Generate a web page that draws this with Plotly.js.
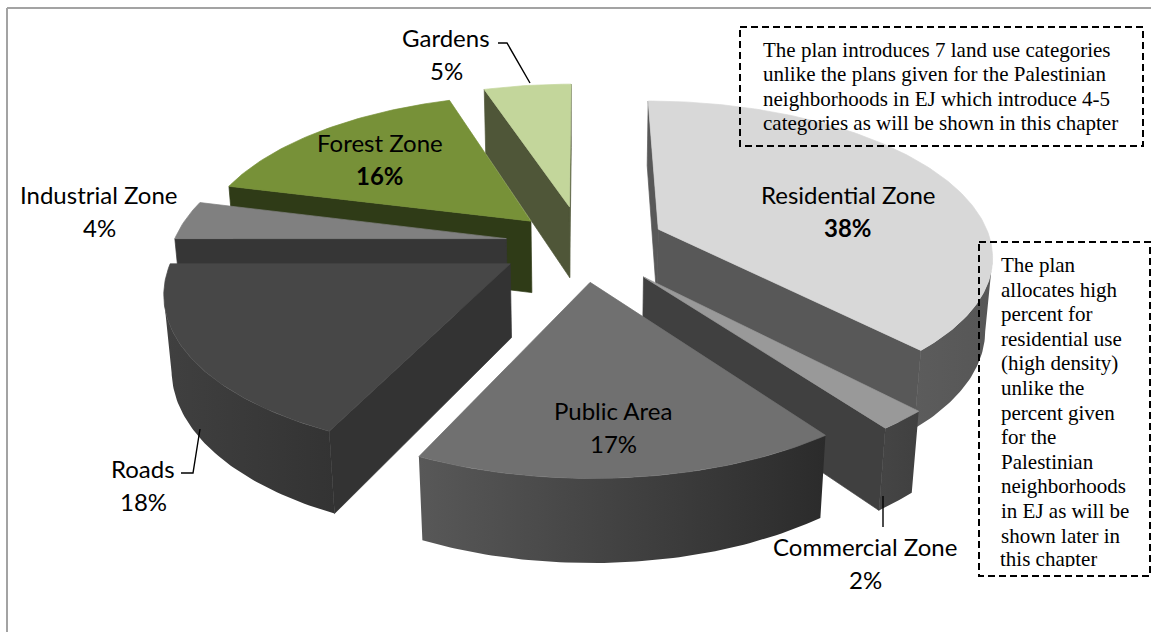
<!DOCTYPE html>
<html><head><meta charset="utf-8">
<script src="https://cdn.plot.ly/plotly-3.0.1.min.js"></script>
<style>html,body{margin:0;padding:0;background:#fff}#c{width:1151px;height:632px}</style>
</head><body><div id="c"></div>
<script>
// ---- data ----
const categories = ["Residential Zone","Commercial Zone","Public Area","Roads","Industrial Zone","Forest Zone","Gardens"];
const percents   = [38,2,17,18,4,16,5];
const noteTop = ["The plan introduces 7 land use categories","unlike the plans given for the Palestinian","neighborhoods in EJ which introduce 4-5","categories as will be shown in this chapter"];
const noteSide = ["The plan","allocates high","percent for","residential use","(high density)","unlike the","percent given","for the","Palestinian","neighborhoods","in EJ as will be","shown later in","this chapter"];
// ---- styling ----
const topColors  = ["#d8d8d8","#999999","#707070","#474747","#808080","#779138","#c3d69b"];
const cutColors  = ["#585858","#404040","#3a3a3a","#333333","#363636","#2f3b17","#4f5638"];
const wallFrom   = ["#5c5c5c","#454545","#585858","#404040","#3a3a3a","#2f3b17","#4f5638"];
const wallTo     = ["#565656","#404040","#2b2b2b","#333333","#363636","#2f3b17","#4f5638"];
const paintOrder = [6,5,0,4,3,1,2];
const boldLabel  = [true,false,false,false,false,true,false];
const explodeBy  = [0.25,0.28,0.25,0.25,0.23,0.215,0.25];
const labelX = [848,865,613,143,99,380,446];
const labelY = [194,546,410,468,194,142,37];
const CX=582, CY=243, A=333, B=152, PERSP=0.155, DEPTH=74, ZP=0.018;

function project(u,v,z){const s=1+PERSP*v+ZP*z;return [CX+A*u/s,CY+(-B*v+DEPTH*z)/s];}
const traces=[];
function poly(pts,color,grad){
  const t={type:'scatter',mode:'lines',x:pts.map(p=>p[0]).concat(pts[0][0]),y:pts.map(p=>p[1]).concat(pts[0][1]),
    fill:'toself',line:{width:0.7,color:color},hoverinfo:'skip',showlegend:false};
  if(grad){t.fillgradient={type:'horizontal',colorscale:[[0,grad[0]],[1,grad[1]]]};t.line.width=0;}else{t.fillcolor=color;}
  traces.push(t);
}
function area(p){let a=0;p.forEach((q,i)=>{const r=p[(i+1)%p.length];a+=q[0]*r[1]-r[0]*q[1];});return a;}
let cum=0;const slices=percents.map(p=>{const s={a0:cum/100*2*Math.PI,a1:(cum+p)/100*2*Math.PI};cum+=p;return s;});
paintOrder.forEach(i=>{
  const {a0,a1}=slices[i],mid=(a0+a1)/2,ox=explodeBy[i]*Math.sin(mid),oy=explodeBy[i]*Math.cos(mid);
  const rim=(t,z)=>project(ox+Math.sin(t),oy+Math.cos(t),z), apex=z=>project(ox,oy,z);
  const ts=[];const n=Math.max(12,Math.round(percents[i]*4));for(let k=0;k<=n;k++)ts.push(a0+(a1-a0)*k/n);
  const vis=ts.filter((t,k)=>{const q=k<n?ts[k+1]:t,p=k<n?t:ts[k-1];return rim(q,0)[0]<rim(p,0)[0];});
  if(vis.length>1){poly(vis.map(t=>rim(t,0)).concat(vis.slice().reverse().map(t=>rim(t,1))),wallFrom[i],[wallFrom[i],wallTo[i]]);}
  const f0=[apex(0),rim(a0,0),rim(a0,1),apex(1)], f1=[apex(0),rim(a1,0),rim(a1,1),apex(1)];
  if(area(f0)<0)poly(f0,cutColors[i]);
  if(area(f1)>0)poly(f1,cutColors[i]);
  poly([apex(0)].concat(ts.map(t=>rim(t,0))),topColors[i]);
});
// leader lines
const leaderX=[[498,507,530],[181,193,200],[883,883]], leaderY=[[43,43,83],[473,473,429],[496,527]];
leaderX.forEach((lx,k)=>traces.push({type:'scatter',mode:'lines',x:lx,y:leaderY[k],line:{color:'#000',width:1.4},hoverinfo:'skip',showlegend:false}));

const annotations=[];
const LF='Lato, "Open Sans", sans-serif';
categories.forEach((c,i)=>{
  annotations.push({x:labelX[i],y:labelY[i],xref:'x',yref:'y',text:c,showarrow:false,xanchor:'center',yanchor:'middle',font:{family:LF,size:24,color:'#000'}});
  annotations.push({x:labelX[i],y:labelY[i]+33,xref:'x',yref:'y',text:boldLabel[i]?'<b>'+percents[i]+'%</b>':percents[i]+'%',showarrow:false,xanchor:'center',yanchor:'middle',font:{family:LF,size:24,color:'#000'}});
});
const SF='"Liberation Serif", serif';
noteTop.forEach((t,k)=>annotations.push({x:761,y:50+k*24.4,xref:'x',yref:'y',text:t,showarrow:false,xanchor:'left',yanchor:'middle',font:{family:SF,size:21,color:'#000'}}));
noteSide.forEach((t,k)=>{
  const last=k===noteSide.length-1, y=265+k*24.6;
  annotations.push(last
    ?{x:999,y:y-14,xref:'x',yref:'y',text:t,showarrow:false,xanchor:'left',yanchor:'top',valign:'top',height:20,borderpad:0,font:{family:SF,size:21,color:'#000'}}
    :{x:999,y:y,xref:'x',yref:'y',text:t,showarrow:false,xanchor:'left',yanchor:'middle',font:{family:SF,size:21,color:'#000'}});
});

const dash={color:'#000',width:2,dash:'7px,4px'};
const shapes=[
 {type:'line',xref:'x',yref:'y',x0:7,y0:8,x1:1151,y1:8,line:{color:'#a3a3a3',width:2}},
 {type:'line',xref:'x',yref:'y',x0:7,y0:8,x1:7,y1:632,line:{color:'#a3a3a3',width:2}},
 {type:'rect',xref:'x',yref:'y',x0:740,y0:27,x1:1143,y1:146,line:dash,fillcolor:'rgba(0,0,0,0)'},
 {type:'rect',xref:'x',yref:'y',x0:979,y0:242,x1:1150,y1:576,line:dash,fillcolor:'rgba(0,0,0,0)'}
];
Plotly.newPlot('c',traces,{width:1151,height:632,margin:{l:0,r:0,t:0,b:0},paper_bgcolor:'#fff',plot_bgcolor:'#fff',
  xaxis:{range:[0,1151],visible:false,fixedrange:true},yaxis:{range:[632,0],visible:false,fixedrange:true},
  showlegend:false,annotations,shapes},{displayModeBar:false,staticPlot:true});
</script></body></html>
